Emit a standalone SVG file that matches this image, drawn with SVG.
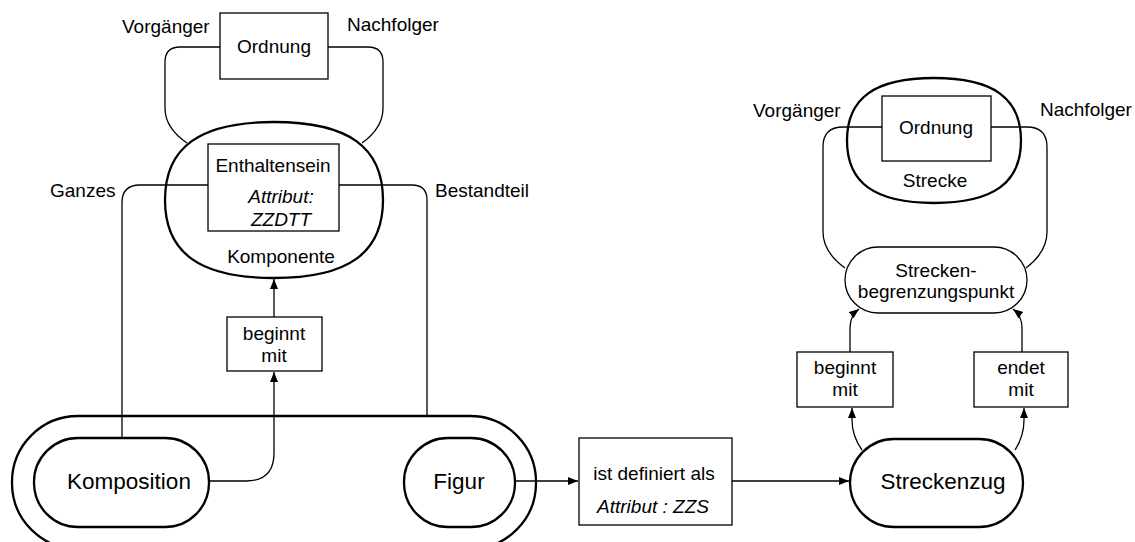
<svg xmlns="http://www.w3.org/2000/svg" width="1135" height="542" viewBox="0 0 1135 542">
<style>
text{font-family:"Liberation Sans",Arial,sans-serif;fill:#000}
.l{font-size:19px}
.c{text-anchor:middle}
.big{font-size:22.5px;text-anchor:middle}
.it{font-style:italic}
.thick{fill:none;stroke:#000;stroke-width:2.3}
.box{fill:#fff;stroke:#000;stroke-width:1.3}
.thin{fill:none;stroke:#000;stroke-width:1.3}
.con{fill:none;stroke:#000;stroke-width:1.3}
.arr{marker-end:url(#ah)}
</style>
<defs>
<marker id="ah" markerUnits="userSpaceOnUse" markerWidth="11" markerHeight="9" refX="10" refY="4" orient="auto">
<path d="M0,0 L10,4 L0,8 Z" fill="#000"/>
</marker>
</defs>
<rect width="1135" height="542" fill="#fff"/>

<g id="connectors">
<path class="con" d="M220,47 H180 Q165,47 165,62 V108 Q165,128 187,143"/>
<path class="con" d="M328,47 H368 Q383,47 383,62 V108 Q383,128 362,143"/>
<path class="con" d="M208,185 H140 Q122,185 122,203 V438"/>
<path class="con" d="M339,185 H412 Q427,185 427,200 V416"/>
<path class="con arr" d="M274,317 V279"/>
<path class="con arr" d="M209,481 H246 Q274,481 274,453 V372"/>
<path class="con arr" d="M515,481 H578"/>
<path class="con arr" d="M732,481 H849"/>
<path class="con arr" d="M862,450 Q852,436 852,420 V408"/>
<path class="con arr" d="M1015,450 Q1024,436 1024,420 V408"/>
<path class="con arr" d="M850,352 V328 Q850,316 859,309"/>
<path class="con arr" d="M1022,352 V328 Q1022,316 1013,309"/>
<path class="con" d="M882,127 H843 Q823,127 823,147 V232 Q823,252 845,268"/>
<path class="con" d="M991,127 H1027 Q1047,127 1047,147 V232 Q1047,252 1026,268"/>
</g>

<g id="vorgaenger-links"><text class="l" x="122" y="33">Vorgänger</text></g>
<g id="nachfolger-links"><text class="l" x="347" y="31">Nachfolger</text></g>
<g id="ordnung-links">
<rect class="box" x="220" y="13" width="108" height="66"/>
<text class="l c" x="274" y="53">Ordnung</text>
</g>
<g id="komponente">
<path class="thick" d="M165,200 C165,147 199.9,122 274,122 C348.1,122 383,147 383,200 C383,253 348.1,278 274,278 C199.9,278 165,253 165,200 Z"/>
<text class="l c" x="281" y="263">Komponente</text>
</g>
<g id="enthaltensein">
<rect class="box" x="208" y="144" width="131" height="87"/>
<text class="l c" x="273" y="172">Enthaltensein</text>
<text class="l c it" x="281" y="203">Attribut:</text>
<text class="l c it" x="281" y="226">ZZDTT</text>
</g>
<g id="ganzes"><text class="l" x="50" y="197">Ganzes</text></g>
<g id="bestandteil"><text class="l" x="435" y="197">Bestandteil</text></g>
<g id="beginnt-mit-links">
<rect class="box" x="227" y="317" width="95" height="54"/>
<text class="l c" x="274" y="340">beginnt</text>
<text class="l c" x="274" y="362">mit</text>
</g>
<g id="aussen">
<rect class="thick" x="12" y="416" width="524" height="133" rx="66" ry="66"/>
</g>
<g id="komposition">
<rect class="thick" x="34" y="438" width="175" height="89" rx="44" ry="44"/>
<text class="big" x="129" y="489">Komposition</text>
</g>
<g id="figur">
<rect class="thick" x="404" y="438" width="111" height="89" rx="44" ry="44"/>
<text class="big" x="459" y="489">Figur</text>
</g>
<g id="ist-definiert-als">
<rect class="box" x="579" y="438" width="153" height="87"/>
<text class="l c" x="654" y="480">ist definiert als</text>
<text class="l c it" x="653" y="513">Attribut :  ZZS</text>
</g>
<g id="streckenzug">
<rect class="thick" x="850" y="439" width="173" height="88" rx="44" ry="44"/>
<text class="big" x="943" y="489">Streckenzug</text>
</g>
<g id="beginnt-mit-rechts">
<rect class="box" x="797" y="352" width="96" height="55"/>
<text class="l c" x="845" y="374">beginnt</text>
<text class="l c" x="845" y="396">mit</text>
</g>
<g id="endet-mit">
<rect class="box" x="974" y="352" width="94" height="55"/>
<text class="l c" x="1021" y="374">endet</text>
<text class="l c" x="1021" y="396">mit</text>
</g>
<g id="streckenbegrenzungspunkt">
<rect class="box" x="845" y="247" width="182" height="66" rx="33" ry="33"/>
<text class="l c" x="936" y="277">Strecken-</text>
<text class="l c" x="936" y="298">begrenzungspunkt</text>
</g>
<g id="strecke">
<path class="thick" d="M847,140.5 C847,98 874.8,78 934,78 C993.2,78 1021,98 1021,140.5 C1021,183 993.2,203 934,203 C874.8,203 847,183 847,140.5 Z"/>
<text class="l c" x="935" y="187">Strecke</text>
</g>
<g id="ordnung-rechts">
<rect class="box" x="882" y="96" width="109" height="65"/>
<text class="l c" x="936" y="134">Ordnung</text>
</g>
<g id="vorgaenger-rechts"><text class="l" x="753" y="117">Vorgänger</text></g>
<g id="nachfolger-rechts"><text class="l" x="1040" y="116">Nachfolger</text></g>
</svg>
